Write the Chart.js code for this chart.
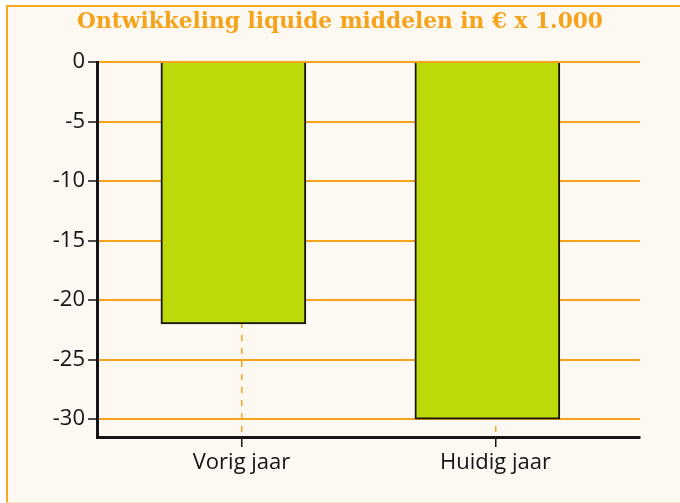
<!DOCTYPE html>
<html>
<head>
<meta charset="utf-8">
<script src="https://cdn.jsdelivr.net/npm/chart.js@4.4.0/dist/chart.umd.min.js"></script>
<style>
  html, body { margin: 0; padding: 0; background: #ffffff; overflow: hidden; width: 680px; height: 503px; }
  #frame {
    position: absolute; left: 6px; top: 5px; width: 700px; height: 498px;
    box-sizing: border-box; background: #fdf8f1;
    border-top: 2px solid #f7a823; border-left: 2px solid #f7a823;
    border-bottom: 1px solid #fbe2b6;
  }
  #wrap { position: absolute; left: 0; top: 0; width: 680px; height: 503px; }
</style>
</head>
<body>
<div id="frame"></div>
<div id="wrap"><canvas id="c" width="680" height="503"></canvas></div>
<script>
// ---- data ----
const chartTitle = 'Ontwikkeling liquide middelen in € x 1.000';
const categories = ['Vorig jaar', 'Huidig jaar'];
const values = [-22, -30];
const yMin = -31.5;
const yMax = 0;
const yStep = 5;

// ---- styles ----
const ORANGE = '#f6a31c';
const INK = '#141414';
const labelFont = "'Open Sans', sans-serif";

const barData = categories.map((c, i) => ({ x: i, y: values[i] }));

new Chart(document.getElementById('c'), {
  type: 'bar',
  data: {
    labels: categories,
    datasets: [{
      data: barData,
      xAxisID: 'xb',
      backgroundColor: '#bdd90a',
      borderColor: INK,
      borderWidth: 2,
      barThickness: 145
    }]
  },
  options: {
    responsive: false,
    animation: false,
    layout: { padding: { left: 40, right: 40, top: 0, bottom: 0 } },
    plugins: {
      legend: { display: false },
      tooltip: { enabled: false },
      title: {
        display: true,
        text: chartTitle,
        color: ORANGE,
        font: { family: "'DejaVu Serif', serif", size: 21.7, weight: 'bold' },
        padding: { top: 9.5, bottom: 26.5 }
      }
    },
    scales: {
      x: {
        type: 'linear',
        position: 'bottom',
        min: -0.569,
        max: 1.569,
        offset: false,
        afterFit(s) { s.height = 66; },
        ticks: {
          stepSize: 1,
          includeBounds: false,
          autoSkip: false,
          maxRotation: 0,
          color: INK,
          padding: 3,
          font: { family: labelFont, size: 22 },
          callback: (v) => categories[v] !== undefined ? categories[v] : ''
        },
        grid: {
          offset: false,
          color: ORANGE,
          lineWidth: 1.5,
          tickColor: INK,
          tickLength: 10,
          tickWidth: 1.5,
          tickBorderDash: []
        },
        border: { color: INK, width: 3, dash: [6, 7] }
      },
      xb: {
        type: 'linear',
        display: false,
        offset: false,
        min: -0.537,
        max: 1.601,
        grid: { offset: false }
      },
      y: {
        min: yMin,
        max: yMax,
        afterFit(s) { s.width = 57; },
        ticks: {
          stepSize: yStep,
          includeBounds: false,
          color: INK,
          padding: 3,
          font: { family: labelFont, size: 22 }
        },
        grid: {
          color: ORANGE,
          lineWidth: 2,
          tickColor: INK,
          tickLength: 9,
          tickWidth: 1.5
        },
        border: { color: INK, width: 3 }
      }
    }
  }
});
</script>
</body>
</html>
